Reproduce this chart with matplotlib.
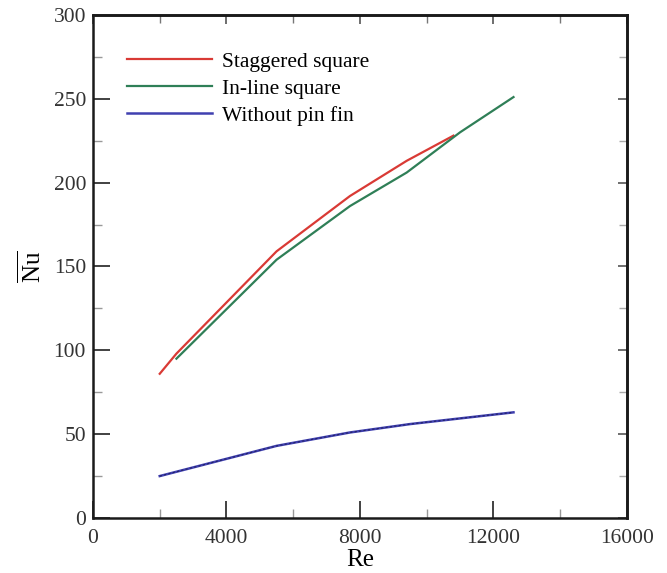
import matplotlib
matplotlib.use("Agg")
import matplotlib.pyplot as plt
from matplotlib.ticker import MultipleLocator, NullFormatter

plt.rcParams['font.family'] = ['Liberation Serif', 'DejaVu Serif']
plt.rcParams['mathtext.fontset'] = 'custom'
plt.rcParams['mathtext.rm'] = 'Liberation Serif'

re_stag = [2000, 2500, 5500, 7700, 9400, 10800]
nu_stag = [86, 98, 159, 192, 213, 228]

re_inline = [2500, 5500, 7700, 9400, 11000, 12600]
nu_inline = [95, 154, 186, 206, 230, 251]

re_plain = [2000, 5500, 7700, 9500, 12600]
nu_plain = [25, 43, 51, 56, 63]

labels = ["Staggered square", "In-line square", "Without pin fin"]

fig = plt.figure(figsize=(6.67, 5.73), dpi=100)
ax = fig.add_axes([0.1394, 0.096, 0.8006, 0.878])

ax.plot(re_stag, nu_stag, color='#d93a35', lw=1.6, label=labels[0])
ax.plot(re_inline, nu_inline, color='#2f7f57', lw=1.6, label=labels[1])
ax.plot(re_plain, nu_plain, color='#4040b0', lw=1.8, label=labels[2])
ax.plot(re_plain, nu_plain, color='#222266', lw=0.8, ls=(0, (2, 2)))

ax.set_xlim(0, 16000)
ax.set_ylim(0, 300)
for a_axis, maj, mnr in ((ax.xaxis, 4000, 2000), (ax.yaxis, 50, 25)):
    a_axis.set_major_locator(MultipleLocator(maj))
    a_axis.set_minor_locator(MultipleLocator(mnr))
ax.tick_params(which='both', direction='in', labelsize=15.5, labelcolor='#333333')
ax.tick_params(axis='x', which='major', pad=8)
ax.tick_params(axis='y', which='major', pad=5)
ax.tick_params(which='major', length=12, width=1.3, color='#333333')
ax.tick_params(which='minor', length=6.5, width=1.0, color='#999999')
for s in ax.spines.values():
    s.set_linewidth(1.8)
    s.set_color('#1a1a1a')

sx = ax.secondary_xaxis('top')
sx.xaxis.set_major_locator(MultipleLocator(4000))
sx.xaxis.set_minor_locator(MultipleLocator(2000))
sx.xaxis.set_major_formatter(NullFormatter())
sx.tick_params(which='both', direction='in')
sx.tick_params(which='major', length=6.5, width=1.2, color='#555555')
sx.tick_params(which='minor', length=5.5, width=1.0, color='#777777')
sx.spines['top'].set_linewidth(1.8)

sy = ax.secondary_yaxis('right')
sy.yaxis.set_major_locator(MultipleLocator(50))
sy.yaxis.set_minor_locator(MultipleLocator(25))
sy.yaxis.set_major_formatter(NullFormatter())
sy.tick_params(which='both', direction='in')
sy.tick_params(which='major', length=6.5, width=1.2, color='#555555')
sy.tick_params(which='minor', length=5.5, width=1.0, color='#aaaaaa')
sy.spines['right'].set_linewidth(1.8)

ax.set_xlabel('Re', fontsize=18, labelpad=1)
ax.set_ylabel(r'$\overline{\mathrm{Nu}}$', fontsize=18, labelpad=6)

leg = ax.legend(loc='upper left', bbox_to_anchor=(0.0637, 0.927), frameon=False,
                fontsize=15.5, handlelength=3.95, handletextpad=0.46,
                labelspacing=0.32, borderpad=0, borderaxespad=0)

fig.savefig('out.png', dpi=100)
